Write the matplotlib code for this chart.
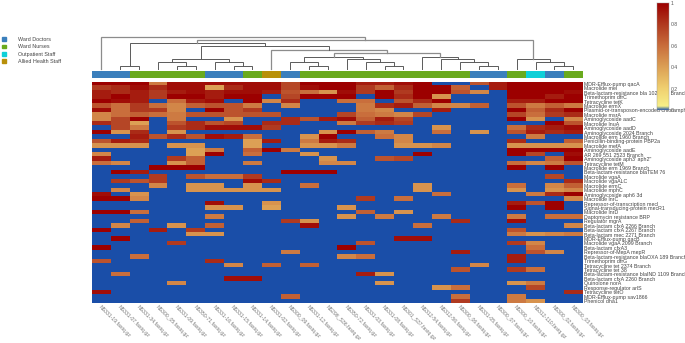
import numpy as np
import matplotlib
matplotlib.use('Agg')
import matplotlib.pyplot as plt
from matplotlib.colors import LinearSegmentedColormap, ListedColormap
from matplotlib.patches import Patch

W, H = 685, 343

samples = ['NS331-19', 'NS331-07', 'NS331-34', 'NS300_05', 'NS331-09', 'NS350-71',
           'NS331-16', 'NS331-15', 'NS331-14', 'NS331-02', 'NS300_09', 'NS331-12',
           'NS298_S36', 'NS350-72', 'NS331-03', 'NS331-08', 'NS301_S37', 'NS312-54',
           'NS312-56', 'NS300_06', 'NS331-05', 'NS300_07', 'NS300_10', 'NS312-110',
           'NS300_02', 'NS300_03']
sample_labels = [s + '.fastq.gz' for s in samples]

genes = ['MDR-Efflux-pump qacA', 'Macrolide mel', 'Beta-lactam-resistance bla 1022 3 4 Branch',
         'Trimethoprim dfrC', 'Tetracycline tetK', 'Macrolide ermX',
         'Plasmid-or-transposon-encoded chloramphenicol', 'Macrolide msrA', 'Aminoglycoside aadC',
         'Macrolide lnuA', 'Aminoglycoside aadD', 'Aminoglycoside 2024 Branch',
         'Macrolide erm 1960 Branch', 'Penicillin-binding-protein PBP2a', 'Macrolide mefA',
         'Aminoglycoside aadE', 'AR 269 551 2523 Branch', "Aminoglycoside aph3' aph2''",
         'Tetracycline tetM', 'Macrolide erm 1969 Branch', 'Beta-lactam-resistance blaTEM 76',
         'Macrolide vgaA', 'Macrolide vgaALC', 'Macrolide ermC', 'Macrolide mphC',
         'Aminoglycoside aph6 3d', 'Macrolide lnrC', 'Repressor-of-transcription mecI',
         'Signal-transducing-protein mecR1', 'Macrolide lnrD', 'Daptomycin resistance BRP',
         'Regulator mgrA', 'Beta-lactam cfxA 2266 Branch', 'Beta-lactam cfxA 2267 Branch',
         'Beta-lactam mec 2271 Branch', 'MDR-Efflux-pump qacB', 'Macrolide vgaA 2099 Branch',
         'Beta-lactam cfxA3', 'Repressor-of-MepA mepR', 'Beta-lactam-resistance blaOXA 189 Branch',
         'Trimethoprim dfrG', 'Tetracycline tet 2374 Branch', 'Tetracycline tet 38',
         'Beta-lactam-resistance blaIND 1109 Branch', 'Beta-lactam cfxA 2260 Branch',
         'Quinolone norA', 'Response-regulator arlS', 'Tetracycline tetO',
         'MDR-Efflux-pump sav1866', 'Phenicol dha1']

# top block of the heatmap, every cell, in percent
top_rows = [
    [100,100,100,55,95,95,95,95,95,95,75,100, 100,100,90,90,95,100,0,0,70,90,100,100,100,100],
    [80,85,95,85,95,95,40,85,95,95,75,95, 100,100,80,65,85,100,100,65,0,90,100,100,100,100],
    [90,85,90,80,90,95,90,95,95,90,70,60, 45,95,80,100,80,100,100,70,50,0,100,100,100,95],
    [90,100,90,80,100,100,90,100,100,0,75,100, 100,100,0,100,85,100,45,0,0,0,100,100,90,100],
    [100,95,90,0,60,90,95,0,100,50,85,0, 0,60,60,0,70,85,100,0,0,0,90,90,100,100],
    [70,60,80,60,50,65,70,70,55,0,50,0, 0,0,55,85,90,65,50,50,65,0,70,55,65,55],
    [95,60,80,80,50,0,100,70,80,0,0,0, 0,0,55,50,0,0,90,0,0,0,100,65,85,100],
    [50,60,65,60,55,70,70,70,70,70,0,0, 0,75,60,55,50,75,0,0,0,0,75,60,80,85],
    [50,75,100,0,55,0,0,45,0,0,85,70, 90,95,65,90,75,0,0,0,0,0,100,45,0,50],
    [85,75,40,0,70,85,70,75,0,85,85,0, 0,55,80,85,80,0,0,0,0,0,0,0,100,70],
    [0,75,55,0,80,85,95,95,95,80,0,0, 0,0,0,0,0,0,45,0,0,0,60,85,90,95],
    [100,45,85,0,45,0,0,0,0,0,0,0, 45,100,65,55,0,0,60,0,45,0,70,90,85,90],
    [0,0,90,70,85,70,95,90,60,0,0,45, 100,0,0,60,50,0,0,0,0,0,0,55,0,0],
    [70,90,85,0,0,0,0,0,40,90,0,55, 90,85,0,0,50,0,0,0,0,0,85,0,0,65],
    [45,45,45,0,45,45,0,0,40,0,0,45, 45,55,0,0,45,45,50,0,0,0,45,45,45,45],
    [0,0,0,0,0,40,55,0,65,100,55,0, 0,0,0,0,0,0,0,0,0,0,100,100,100,100],
    [50,0,0,0,0,40,100,0,60,0,0,45, 0,0,0,0,0,100,0,0,0,0,100,75,0,95],
    [90,0,0,0,80,65,0,0,0,0,0,0, 45,0,0,70,75,0,0,0,0,0,0,0,65,100],
    [60,50,0,0,45,65,0,0,55,0,0,0, 50,50,0,0,0,0,0,0,0,0,60,50,55,70],
    [0,0,0,100,100,100,0,0,0,0,0,0, 0,0,0,0,0,0,0,0,0,0,100,0,100,0],
]

# lower rows are mostly empty: row -> {column: percent}
sparse_rows = {
    20: {1:100, 2:90, 10:100, 11:100, 12:100},
    21: {3:80, 5:70, 6:60, 7:60, 8:80, 24:75},
    22: {1:80, 2:70, 3:80, 8:95, 9:85, 25:85},
    23: {3:50, 5:45, 6:45, 8:45, 11:60, 17:45, 22:60, 24:50, 25:65},
    24: {1:50, 5:45, 6:45, 7:45, 8:45, 9:45, 17:45, 22:45, 24:45, 25:50},
    25: {0:95, 2:45, 18:60, 23:55, 24:85, 25:100},
    26: {0:100, 1:100, 2:50, 14:80, 16:60, 25:50},
    27: {6:95, 9:45, 22:90, 23:70, 24:100},
    28: {6:45, 7:45, 9:40, 13:45, 22:100, 24:100},
    29: {0:100, 1:100, 2:60, 14:65, 16:45},
    30: {6:55, 13:45, 15:55, 18:55, 22:55, 24:60, 25:60},
    31: {2:65, 10:80, 11:45, 19:85, 22:95},
    32: {1:50, 4:45, 6:65, 11:95, 17:60, 25:50},
    33: {0:100, 3:90, 5:80, 22:70},
    34: {5:45, 6:45, 22:55, 23:45, 24:50, 25:55},
    35: {1:100, 16:95, 17:95},
    36: {4:80, 14:70, 22:80, 23:50},
    37: {0:100, 13:100, 23:60},
    38: {10:55, 19:90, 23:70, 24:50},
    39: {2:60, 13:50, 14:60, 22:90},
    40: {0:70, 6:85, 22:90},
    41: {7:50, 9:65, 11:65, 20:50},
    42: {19:70, 22:80, 23:60},
    43: {1:60, 14:90, 15:45},
    44: {7:95, 8:95},
    45: {4:50, 15:45, 22:45, 23:55},
    46: {18:45, 19:60, 23:75},
    47: {0:95, 25:85},
    48: {10:65, 19:60, 22:55},
    49: {19:80, 22:55, 23:45},
}

# sample groups along the annotation bar, as (group index, how many columns)
group_names = ['Ward Doctors', 'Ward Nurses', 'Outpatient Staff', 'Allied Health Staff']
group_colors = ['#3b7fbc', '#6aaa1e', '#0fd0d8', '#b8900a']
group_runs = [(0, 2), (1, 4), (0, 2), (1, 1), (3, 1), (0, 1), (1, 9), (0, 2), (1, 1), (2, 1), (0, 1), (1, 1)]

# dendrogram merges like a linkage table: (left node, right node, height); new ids start at 26
merges = [(1, 2, 3.3), (4, 5, 3.3), (3, 27, 6.7), (7, 8, 3.3), (6, 29, 6.7), (28, 30, 10),
          (11, 12, 3.3), (10, 32, 6.7), (15, 16, 3.3), (14, 34, 6.7), (13, 35, 10), (33, 36, 12.3),
          (20, 21, 3.3), (19, 38, 6.7), (18, 39, 10), (17, 40, 12.3), (37, 41, 15.7), (9, 42, 19),
          (31, 43, 22.7), (26, 44, 26), (24, 25, 3.3), (23, 46, 6.7), (22, 47, 10), (45, 48, 29.3),
          (0, 49, 32.3)]
# these merges look paler and a bit thicker in the reference
pale_heights = [32.3, 29.3, 19, 15.7]

cbar_ticks = [0, 0.2, 0.4, 0.6, 0.8, 1]
cbar_ticklabels = ['0', '0.2', '0.4', '0.6', '0.8', '1']

matrix = np.zeros((len(genes), len(samples)))
matrix[:len(top_rows)] = np.array(top_rows) / 100
for r, cols in sparse_rows.items():
    for c, v in cols.items():
        matrix[r, c] = v / 100

cmap = LinearSegmentedColormap.from_list('abund', [
    (0, '#1a4ea8'), (0.012, '#6f8f9c'), (0.035, '#f7ef88'), (0.2, '#f0d070'),
    (0.4, '#dca055'), (0.6, '#c96e3c'), (0.8, '#b03a20'), (1, '#9c0000')])


def box(left, top, right, bottom):
    # axes position from pixel edges
    return [left / W, 1 - bottom / H, (right - left) / W, (bottom - top) / H]


plt.rcParams['font.family'] = ['Liberation Sans', 'DejaVu Sans']
fig = plt.figure(figsize=(W / 100, H / 100), dpi=100)

# heatmap
ax = fig.add_axes(box(92, 81.6, 582.7, 303.3))
ax.imshow(matrix, cmap=cmap, vmin=0, vmax=1, aspect='auto', interpolation='nearest')
ax.yaxis.tick_right()
ax.set_yticks(range(len(genes)), genes, fontsize=3.8, color='#444444')
ax.set_xticks(range(len(samples)), sample_labels, fontsize=3.7, color='#777777',
              rotation=-45, ha='left', rotation_mode='anchor')
ax.tick_params(length=0, pad=1)
for s in ax.spines.values():
    s.set_visible(False)

# annotation bar
codes = [g for g, n in group_runs for _ in range(n)]
ax_bar = fig.add_axes(box(92, 71, 582.7, 78.3))
ax_bar.imshow([codes], cmap=ListedColormap(group_colors), vmin=0, vmax=3, aspect='auto',
              interpolation='nearest')
ax_bar.axis('off')

# dendrogram
ax_tree = fig.add_axes(box(92, 35, 582.7, 69))
ax_tree.set_xlim(-0.5, len(samples) - 0.5)
ax_tree.set_ylim(0, 34)
ax_tree.axis('off')
pos = list(np.arange(len(samples), dtype=float))
height = [0.0] * len(samples)
for left, right, h in merges:
    pale = h in pale_heights
    ax_tree.plot([pos[left], pos[left], pos[right], pos[right]],
                 [height[left], h, h, height[right]], color='#8c8c8c' if pale else '#5a5a5a',
                 lw=0.9 if pale else 0.7, solid_joinstyle='miter', clip_on=False)
    pos.append((pos[left] + pos[right]) / 2)
    height.append(h)

# colour scale, sits on top of the long row labels
ax_cb = fig.add_axes(box(657, 3, 669, 110))
ax_cb.imshow(np.linspace(1, 0, 256)[:, None], cmap=cmap, vmin=0, vmax=1, aspect='auto',
             extent=[0, 1, 0, 1])
ax_cb.set_xticks([])
ax_cb.yaxis.tick_right()
ax_cb.set_yticks(cbar_ticks, cbar_ticklabels, fontsize=3.7, color='#555555')
ax_cb.tick_params(length=0, pad=1)
for s in ax_cb.spines.values():
    s.set_color('#999999')
    s.set_linewidth(0.3)

# legend
handles = [Patch(color=c, label=n) for n, c in zip(group_names, group_colors)]
fig.legend(handles=handles, loc='upper left', bbox_to_anchor=(0.001, 1 - 35.5 / H), frameon=False,
           fontsize=3.9, labelcolor='#444444', handlelength=0.75, handleheight=0.75,
           labelspacing=0.42, handletextpad=2.2, borderpad=0, borderaxespad=0.3)

fig.savefig('out.png', dpi=100)
